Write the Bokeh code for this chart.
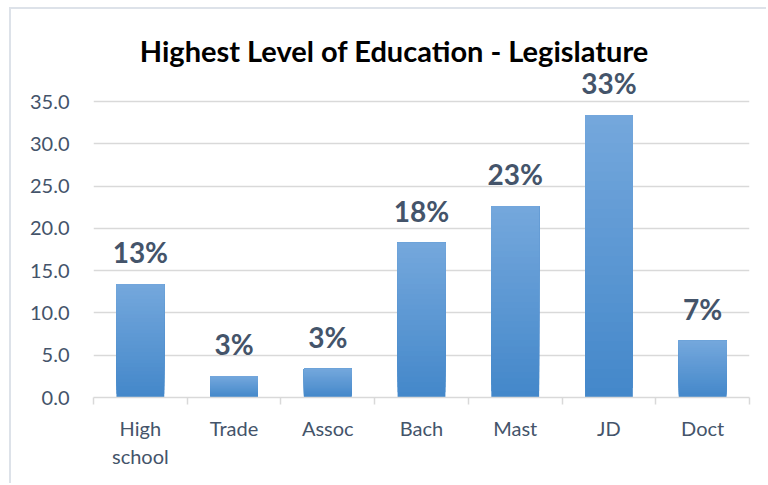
from bokeh.plotting import figure
from bokeh.models import FixedTicker, NumeralTickFormatter, Range1d, ColumnDataSource
from bokeh.core.properties import value
from bokeh.embed import file_html
from bokeh.resources import INLINE

categories = ["High\nschool", "Trade", "Assoc", "Bach", "Mast", "JD", "Doct"]
values = [13.4, 2.5, 3.4, 18.3, 22.6, 33.4, 6.7]
labels = ["13%", "3%", "3%", "18%", "23%", "33%", "7%"]
y_ticks = [0, 5, 10, 15, 20, 25, 30, 35]
title_text = "Highest Level of Education - Legislature"

FONT = "Lato"
TEXT_COLOR = "#44546A"
GRID_COLOR = "#D9D9D9"

p = figure(width=757, height=476, output_backend="svg", toolbar_location=None,
           x_range=Range1d(0, 7), y_range=Range1d(0, 44.46),
           min_border_left=82, min_border_right=19, min_border_top=12, min_border_bottom=88)
p.outline_line_color = None
p.background_fill_color = "white"
p.border_fill_color = "white"
p.styles = {"margin-left": "9px", "margin-top": "7px",
            "border-left": "2px solid #DDE2E9", "border-top": "2px solid #DDE2E9"}

centers = [i + 0.5 for i in range(len(categories))]

# gradient bars: light at top, darker at bottom (overlapping layers)
top_rgb = (0x74, 0xA7, 0xDC)
bot_rgb = (0x44, 0x88, 0xCA)
N = 30
xs, bottoms, tops, colors = [], [], [], []
for k in range(N):
    t = k / (N - 1)
    r = round(bot_rgb[0] + (top_rgb[0] - bot_rgb[0]) * t)
    g = round(bot_rgb[1] + (top_rgb[1] - bot_rgb[1]) * t)
    b = round(bot_rgb[2] + (top_rgb[2] - bot_rgb[2]) * t)
    col = "#%02X%02X%02X" % (r, g, b)
    for c, v in zip(centers, values):
        xs.append(c)
        bottoms.append(v * k / N)
        tops.append(v)
        colors.append(col)
src = ColumnDataSource(dict(x=xs, bottom=bottoms, top=tops, color=colors))
p.vbar(x="x", bottom="bottom", top="top", width=0.51, fill_color="color", line_color=None, source=src)

# data labels
lsrc = ColumnDataSource(dict(x=centers, y=values, t=labels))
p.text(x="x", y="y", text="t", source=lsrc, text_align="center", text_baseline="alphabetic",
       y_offset=-32, text_font=value(FONT), text_font_style="bold", text_font_size="28px",
       text_color=TEXT_COLOR)

# title
p.text(x=[3.21], y=[41.0], text=[title_text], text_align="center", text_baseline="middle",
       text_font=value(FONT), text_font_style="bold", text_font_size="29px", text_color="black")

# axes
p.xgrid.visible = False
p.ygrid.ticker = FixedTicker(ticks=y_ticks)
p.ygrid.grid_line_color = GRID_COLOR
p.ygrid.grid_line_width = 1.5

p.yaxis.ticker = FixedTicker(ticks=y_ticks)
p.yaxis.formatter = NumeralTickFormatter(format="0.0")
p.yaxis.axis_line_color = None
p.yaxis.major_tick_line_color = None
p.yaxis.minor_tick_line_color = None
p.yaxis.major_label_standoff = 18
p.yaxis.major_label_text_font = FONT
p.yaxis.major_label_text_font_size = "20px"
p.yaxis.major_label_text_color = TEXT_COLOR

p.xaxis.ticker = FixedTicker(ticks=centers, minor_ticks=list(range(len(categories) + 1)))
p.xaxis.major_label_overrides = {c: lab for c, lab in zip(centers, categories)}
p.xaxis.axis_line_color = GRID_COLOR
p.xaxis.axis_line_width = 1.5
p.xaxis.major_tick_line_color = None
p.xaxis.minor_tick_line_color = GRID_COLOR
p.xaxis.minor_tick_line_width = 1.5
p.xaxis.minor_tick_in = 0
p.xaxis.minor_tick_out = 7
p.xaxis.major_label_standoff = 11
p.xaxis.major_label_text_font = FONT
p.xaxis.major_label_text_font_size = "20px"
p.xaxis.major_label_text_color = TEXT_COLOR

open("out.html", "w").write(file_html(p, INLINE))
